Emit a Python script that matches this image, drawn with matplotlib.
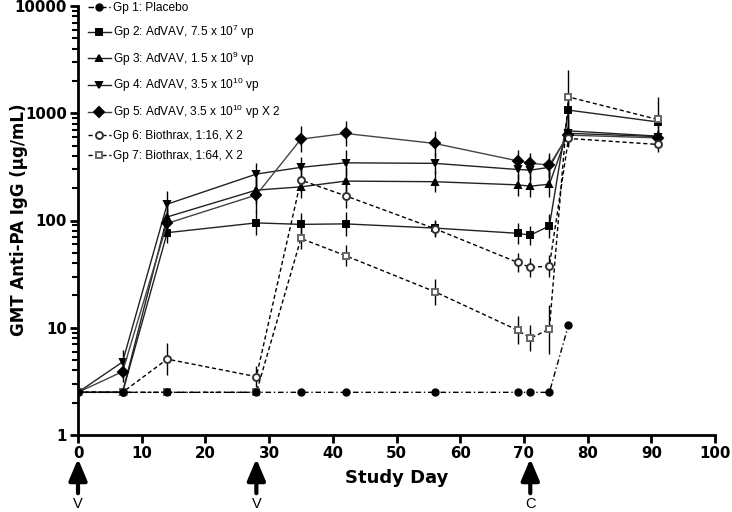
import numpy as np
import matplotlib
matplotlib.use("Agg")
from matplotlib import pyplot as plt

plt.rcParams["font.family"] = ["Liberation Sans", "DejaVu Sans"]
plt.rcParams["mathtext.default"] = "regular"

# study days and GMT values (ug/mL) per group
days_gp1 = [0, 7, 14, 28, 35, 42, 56, 69, 71, 74, 77]
gp1 = [2.5, 2.5, 2.5, 2.5, 2.5, 2.5, 2.5, 2.5, 2.5, 2.5, 10.6]

days = [0, 7, 14, 28, 35, 42, 56, 69, 71, 74, 77, 91]
gp2 = [2.5, 2.5, 77, 95, 92, 93, 85, 76, 73, 89, 1070, 830]
gp3 = [2.5, 2.5, 108, 192, 206, 233, 230, 215, 209, 218, 685, 612]
gp4 = [2.5, 4.8, 142, 271, 313, 345, 341, 299, 295, 313, 650, 605]
gp5 = [2.5, 3.9, 94, 173, 574, 648, 523, 360, 341, 330, 625, 590]
gp6 = [2.5, 2.5, 5.1, 3.5, 238, 170, 84, 40.7, 36.5, 37.6, 582, 512]
gp7 = [2.5, 2.5, 2.5, 2.5, 68, 47, 21.7, 9.5, 8.0, 9.7, 1420, 875]

# error bar half-lengths in log10 units
err2 = [0, 0, 0.10, 0.11, 0.11, 0.11, 0.07, 0.10, 0.09, 0.11, 0.12, 0.07]
err3 = [0, 0, 0.12, 0.13, 0.10, 0.12, 0.10, 0.10, 0.10, 0.12, 0.10, 0.06]
err4 = [0, 0.11, 0.12, 0.10, 0.10, 0.12, 0.10, 0.10, 0.09, 0.11, 0.10, 0.06]
err5 = [0, 0.10, 0.14, 0.16, 0.12, 0.12, 0.12, 0.10, 0.10, 0.11, 0.10, 0.06]
err6 = [0, 0, 0.15, 0.10, 0.11, 0.11, 0.08, 0.09, 0.09, 0.10, 0.08, 0.07]
err7 = [0, 0, 0, 0, 0.10, 0.10, 0.12, 0.13, 0.12, 0.23, 0.25, 0.21]

labels = ["Gp 1: Placebo",
          "Gp 2: AdVAV, 7.5 x 10$^{7}$ vp",
          "Gp 3: AdVAV, 1.5 x 10$^{9}$ vp",
          "Gp 4: AdVAV, 3.5 x 10$^{10}$ vp",
          "Gp 5: AdVAV, 3.5 x 10$^{10}$ vp X 2",
          "Gp 6: Biothrax, 1:16, X 2",
          "Gp 7: Biothrax, 1:64, X 2"]

fig = plt.figure(figsize=(7.32, 5.12), dpi=100)
ax = fig.add_axes([78 / 732, 1 - 435 / 512, 637 / 732, 429 / 512])


def draw(x, y, err, label, marker, ls, color, mfc, mec, ms, lw=1.0, z=3):
    y = np.array(y, dtype=float)
    err = np.array(err, dtype=float)
    lo = y - y / 10 ** err
    hi = y * 10 ** err - y
    ax.errorbar(x, y, yerr=[lo, hi], fmt="none", ecolor="black",
                elinewidth=1.0, capsize=0, zorder=z - 1)
    line, = ax.plot(x, y, ls=ls, color=color, lw=lw, marker=marker, ms=ms,
                    mfc=mfc, mec=mec, mew=1.4, label=label, zorder=z)
    if ls == "--":
        line.set_dashes((3, 2))


ax.plot(days_gp1, gp1, ls="-.", dashes=(4, 2, 1, 2), color="black", lw=1.0,
        marker="o", ms=5, mfc="black", mec="black", label=labels[0], zorder=4)
draw(days, gp2, err2, labels[1], "s", "-", "#222222", "black", "black", 5)
draw(days, gp3, err3, labels[2], "^", "-", "#222222", "black", "black", 5)
draw(days, gp4, err4, labels[3], "v", "-", "#222222", "black", "black", 5)
draw(days, gp5, err5, labels[4], "D", "-", "#444444", "black", "black", 5)
draw(days, gp6, err6, labels[5], "o", "--", "black", "white", "#333333", 5)
draw(days, gp7, err7, labels[6], "s", "--", "black", "white", "#666666", 5)

ax.set_yscale("log")
ax.set_ylim(1, 10000)
ax.set_xlim(0, 100)
ax.set_xticks(range(0, 101, 10))
ax.set_yticks([1, 10, 100, 1000, 10000])
ax.set_yticklabels(["1", "10", "100", "1000", "10000"])
for s in ["top", "right"]:
    ax.spines[s].set_visible(False)
for s in ["left", "bottom"]:
    ax.spines[s].set_linewidth(2)
ax.tick_params(axis="both", which="major", width=2, length=6, labelsize=10.8, pad=2)
ax.tick_params(axis="y", which="minor", width=1.5, length=4)
for t in ax.get_xticklabels() + ax.get_yticklabels():
    t.set_fontweight("bold")
    t.set_family("DejaVu Sans")

fig.text(19 / 732, 1 - 220 / 512, "GMT Anti-PA IgG (\u03bcg/mL)", rotation=90,
         ha="center", va="center", fontsize=12, fontweight="bold",
         family="DejaVu Sans")
fig.text(ax.get_position().x0 + ax.get_position().width * 0.5, 1 - 478 / 512,
         "Study Day", ha="center", va="center", fontsize=13, fontweight="bold",
         family="DejaVu Sans")

# vaccination / challenge arrows under the axis
arrow_days = [0, 28, 71]
arrow_text = ["V", "V", "C"]
for d, t in zip(arrow_days, arrow_text):
    ax.annotate("", xy=(d, 1 - 456 / 512), xytext=(d, 1 - 496 / 512),
                xycoords=("data", "figure fraction"),
                textcoords=("data", "figure fraction"),
                arrowprops=dict(arrowstyle="-|>,head_width=0.55,head_length=1.3",
                                lw=3, color="black"),
                annotation_clip=False)
    ax.annotate(t, xy=(d, 1 - 504 / 512), xycoords=("data", "figure fraction"),
                ha="center", va="center", fontsize=10.5, annotation_clip=False)

ax.legend(loc="upper left", bbox_to_anchor=(0.014, 1.012), frameon=False,
          fontsize=8.6, handlelength=1.9, handletextpad=0.15, labelspacing=0.72,
          borderaxespad=0.0, borderpad=0.1)

fig.savefig("out.png", dpi=100)
